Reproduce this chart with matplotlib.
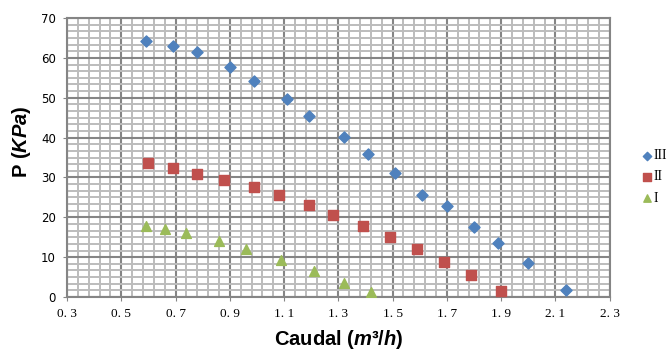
import numpy as np
import matplotlib
matplotlib.use("Agg")
import matplotlib.pyplot as plt
from matplotlib.ticker import FixedLocator

plt.rcParams["mathtext.fontset"] = "custom"
plt.rcParams["mathtext.rm"] = "Liberation Sans:bold"
plt.rcParams["mathtext.it"] = "Liberation Sans:italic:bold"

# series III (diamonds)
q3 = [0.59, 0.69, 0.78, 0.90, 0.99, 1.11, 1.19, 1.32, 1.41, 1.51, 1.61, 1.70, 1.80, 1.89, 2.00, 2.14]
p3 = [64.3, 63.0, 61.5, 57.8, 54.2, 49.6, 45.5, 40.2, 35.8, 31.2, 25.7, 22.8, 17.6, 13.6, 8.5, 1.7]

# series II (squares)
q2 = [0.60, 0.69, 0.78, 0.88, 0.99, 1.08, 1.19, 1.28, 1.39, 1.49, 1.59, 1.69, 1.79, 1.90]
p2 = [33.6, 32.4, 30.9, 29.4, 27.6, 25.6, 23.0, 20.7, 17.8, 15.0, 12.0, 8.7, 5.5, 1.5]

# series I (triangles)
q1 = [0.59, 0.66, 0.74, 0.86, 0.96, 1.09, 1.21, 1.32, 1.42]
p1 = [17.8, 17.0, 16.0, 14.0, 12.0, 9.3, 6.6, 3.5, 1.3]

xticks = [0.3, 0.5, 0.7, 0.9, 1.1, 1.3, 1.5, 1.7, 1.9, 2.1, 2.3]
yticks = [0, 10, 20, 30, 40, 50, 60, 70]

fig = plt.figure(figsize=(6.7, 3.54), dpi=100)
ax = fig.add_axes([0.1, 0.161, 0.81, 0.788])

ax.scatter(q3, p3, marker="D", s=32, color="#4F81BD", label="III", zorder=3)
ax.scatter(q2, p2, marker="s", s=62, color="#C0504D", label="II", zorder=3)
ax.scatter(q1, p1, marker="^", s=50, color="#9BBB59", label="I", zorder=3)

ax.set_xlim(0.3, 2.3)
ax.set_ylim(0, 70)
ax.xaxis.set_major_locator(FixedLocator(xticks))
ax.yaxis.set_major_locator(FixedLocator(yticks))
# 5 minor divisions per x major, 6 per y major
ax.xaxis.set_minor_locator(FixedLocator(np.linspace(xticks[0], xticks[-1], 51)))
ax.yaxis.set_minor_locator(FixedLocator(np.linspace(yticks[0], yticks[-1], 43)))
ax.set_xticklabels([f"{v:.1f}".replace(".", ". ") for v in xticks],
                   family="Liberation Serif", fontsize=9.5)
ax.set_yticklabels([str(v) for v in yticks], family="DejaVu Sans", fontsize=8.5)

ax.grid(which="major", color="#858585", linewidth=1.5)
ax.grid(which="minor", color="#bcbcbc", linewidth=1.4)
ax.set_axisbelow(True)
for s in ax.spines.values():
    s.set_color("#858585")
    s.set_linewidth(1.5)
ax.tick_params(which="minor", length=0)
ax.tick_params(which="major", length=3, color="#858585", pad=5)

ax.set_xlabel(r"Caudal ($m³/h$)", family="Liberation Sans", fontweight="bold", fontsize=14.5, labelpad=6)
ax.set_ylabel(r"P ($KPa$)", family="Liberation Sans", fontweight="bold", fontsize=14.5, labelpad=6, y=0.556)

fig.legend(loc="center left", bbox_to_anchor=(0.948, 0.5), frameon=False,
           prop={"family": "Liberation Serif", "size": 10}, markerscale=0.75,
           handletextpad=0.05, labelspacing=0.6, handlelength=0.9, borderaxespad=0)

fig.savefig("out.png", dpi=100)
